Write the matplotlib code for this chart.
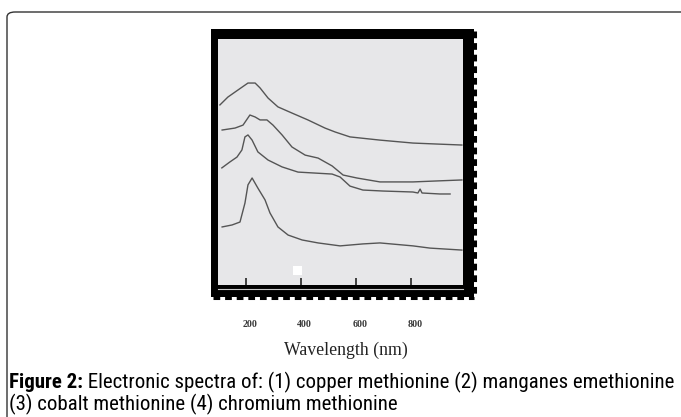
import matplotlib
matplotlib.use("Agg")
import matplotlib.pyplot as plt
from matplotlib.patches import Rectangle, FancyBboxPatch
from matplotlib.lines import Line2D
from matplotlib import font_manager
import matplotlib.transforms as mtransforms

# ---------------- data (wavelength in nm, absorbance in arbitrary units) ----------------
wl_cu = [106, 135, 172, 208, 234, 252, 281, 317, 368, 426, 488, 525, 579, 688, 808, 895, 986]
ab_cu = [0.732, 0.764, 0.793, 0.821, 0.821, 0.801, 0.760, 0.724, 0.699, 0.671, 0.638, 0.622,
         0.602, 0.589, 0.577, 0.573, 0.569]

wl_mn = [114, 161, 190, 215, 234, 252, 277, 299, 332, 368, 416, 463, 514, 554, 604, 688, 808, 895, 986]
ab_mn = [0.630, 0.638, 0.650, 0.691, 0.683, 0.671, 0.671, 0.650, 0.610, 0.561, 0.528, 0.516,
         0.484, 0.447, 0.435, 0.419, 0.419, 0.423, 0.427]

wl_co = [113, 142, 168, 186, 197, 208, 223, 244, 281, 332, 390, 452, 514, 543, 579, 626, 699,
         808, 826, 834, 841, 906, 943]
ab_co = [0.476, 0.500, 0.520, 0.549, 0.602, 0.610, 0.589, 0.541, 0.508, 0.480, 0.459, 0.455,
         0.451, 0.439, 0.402, 0.386, 0.382, 0.378, 0.374, 0.390, 0.374, 0.370, 0.370]

wl_cr = [114, 150, 179, 197, 208, 223, 244, 270, 288, 317, 354, 405, 463, 543, 626, 688, 808, 870, 986]
ab_cr = [0.236, 0.244, 0.256, 0.333, 0.407, 0.435, 0.394, 0.346, 0.293, 0.236, 0.203, 0.183,
         0.171, 0.159, 0.167, 0.171, 0.159, 0.150, 0.142]

xticks = [200, 400, 600, 800]
xtick_labels = ["200", "400", "600", "800"]
xlabel = "Wavelength (nm)"
caption_bold = "Figure 2:"
caption_line1 = " Electronic spectra of: (1) copper methionine (2) manganes emethionine"
caption_line2 = "(3) cobalt methionine (4) chromium methionine"

# ---------------- figure ----------------
W, H = 681, 417
fig = plt.figure(figsize=(W / 100, H / 100), dpi=100)
fig.patch.set_facecolor("white")

def fx(px):
    return px / W

def fy(py):
    return 1 - py / H

# outer rounded box (open on right / bottom)
box = FancyBboxPatch((fx(7), fy(430)), fx(700) - fx(7), fy(12) - fy(430),
                     boxstyle="round,pad=0,rounding_size=0.012",
                     transform=fig.transFigure, facecolor="none",
                     edgecolor="#333333", linewidth=1.0, zorder=1)
fig.add_artist(box)

# thick black frame around plot
fig.add_artist(Rectangle((fx(211), fy(297)), fx(474) - fx(211), fy(29) - fy(297),
                         transform=fig.transFigure, facecolor="black", edgecolor="none", zorder=1))
# serrated outer edges
fig.add_artist(Line2D([fx(213), fx(474)], [fy(298), fy(298)], transform=fig.transFigure,
                      color="black", linewidth=2.2, dashes=(2.2, 1.6), zorder=1))
fig.add_artist(Line2D([fx(475), fx(475)], [fy(31), fy(297)], transform=fig.transFigure,
                      color="black", linewidth=2.2, dashes=(2.2, 1.6), zorder=1))
# light inner line near bottom of frame
fig.add_artist(Line2D([fx(218), fx(463)], [fy(288.5), fy(288.5)], transform=fig.transFigure,
                      color="#c8c8c8", linewidth=0.8, zorder=2))

# plot axes (gray area)
ax = fig.add_axes([fx(218), fy(285), fx(463) - fx(218), fy(39) - fy(285)], zorder=3)
ax.set_facecolor("#e7e7e9")
for s in ax.spines.values():
    s.set_visible(False)

lc = "#555555"
ax.plot(wl_cu, ab_cu, color=lc, linewidth=1.0)
ax.plot(wl_mn, ab_mn, color=lc, linewidth=1.0)
ax.plot(wl_co, ab_co, color=lc, linewidth=1.0)
ax.plot(wl_cr, ab_cr, color=lc, linewidth=1.0)

ax.set_xlim(99, 990)
ax.set_ylim(0, 1)
ax.set_yticks([])
ax.set_xticks(xticks)
ax.set_xticklabels(xtick_labels, family="Liberation Serif", fontsize=7.2,
                   fontweight="bold", color="#3a3a3a")
ax.tick_params(axis="x", direction="in", length=5, width=1.4, color="#404040", pad=25)
offset = mtransforms.ScaledTranslation(4 / 100, 0, fig.dpi_scale_trans)
for lab in ax.get_xticklabels():
    lab.set_transform(lab.get_transform() + offset)

# small white artifact square in the plot area
fig.add_artist(Rectangle((fx(293), fy(275)), fx(9), fy(0) - fy(9),
                         transform=fig.transFigure, facecolor="white", edgecolor="none", zorder=4))

# x label
fig.text(fx(346), fy(350), xlabel, family="Liberation Serif", fontsize=12.8,
         color="#222222", ha="center", va="center")

# caption -- pick a narrow sans if installed, fit line 1 to the reference width
avail = {f.name for f in font_manager.fontManager.ttflist}
cap_font = "Liberation Sans"
for cand in ["Liberation Sans Narrow", "Arial Narrow", "Roboto Condensed"]:
    if cand in avail:
        cap_font = cand
        break

r = fig.canvas.get_renderer()
left_px, right_px = 9, 675
fs = 12.0
t1 = fig.text(fx(left_px), fy(388), caption_bold, family=cap_font, fontweight="bold",
              fontsize=fs, color="black", ha="left", va="baseline")
t2 = fig.text(0, fy(388), caption_line1, family=cap_font,
              fontsize=fs, color="black", ha="left", va="baseline")
t3 = fig.text(fx(left_px), fy(410), caption_line2, family=cap_font,
              fontsize=fs, color="black", ha="left", va="baseline")
w_total = t1.get_window_extent(r).width + t2.get_window_extent(r).width
fs = fs * (right_px - left_px) / w_total
for t in (t1, t2, t3):
    t.set_fontsize(fs)
t2.set_x((left_px + t1.get_window_extent(r).width) / W)

fig.savefig("out.png", dpi=100)
